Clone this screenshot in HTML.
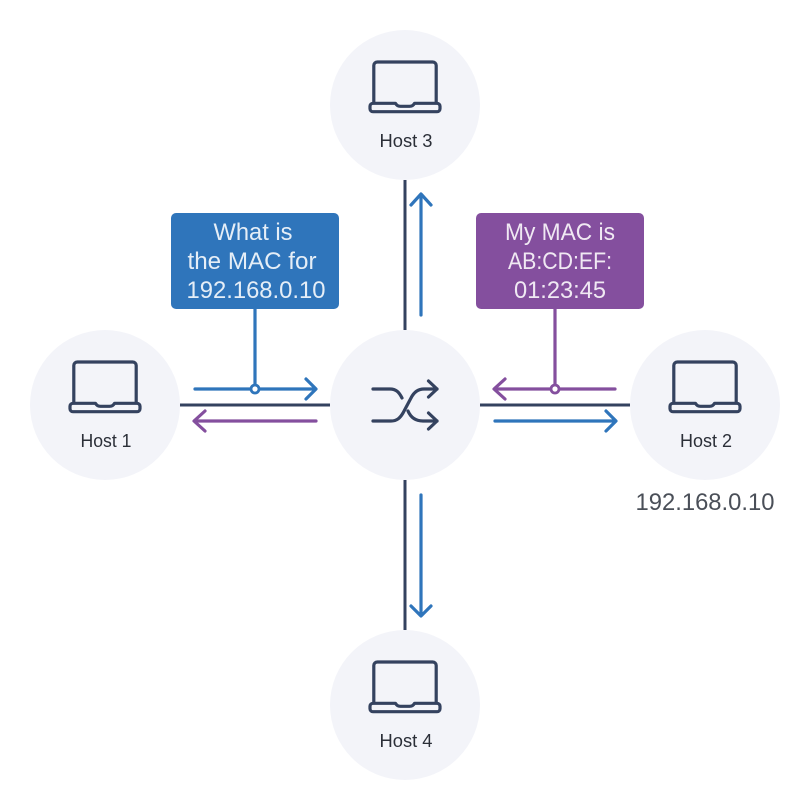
<!DOCTYPE html>
<html>
<head>
<meta charset="utf-8">
<style>
html,body{margin:0;padding:0;background:#fff;width:810px;height:810px;overflow:hidden}
svg{display:block}
text{font-family:"Liberation Sans",sans-serif}
</style>
</head>
<body>
<svg width="810" height="810" viewBox="0 0 810 810" xmlns="http://www.w3.org/2000/svg">
<defs>
<g id="lap" fill="none" stroke="#34425f" stroke-width="3.200" stroke-linejoin="round" stroke-linecap="round">
<path d="M-31.200 -2V-39.500a3.500 3.500 0 0 1 3.500-3.500H27.700a3.500 3.500 0 0 1 3.500 3.500V-2"/>
<path d="M-32 -1.700H-9.500Q-8 1.300 -4.500 1.300H4.500Q8 1.300 9.500 -1.700H32a3 3 0 0 1 3 3V3.700a3 3 0 0 1 -3 3H-32a3 3 0 0 1 -3 -3V1.300a3 3 0 0 1 3 -3Z"/>
</g>
</defs>

<circle cx="105" cy="405" r="75" fill="#f3f4f9"/>
<circle cx="705" cy="405" r="75" fill="#f3f4f9"/>
<circle cx="405" cy="105" r="75" fill="#f3f4f9"/>
<circle cx="405" cy="705" r="75" fill="#f3f4f9"/>
<circle cx="405" cy="405" r="75" fill="#f3f4f9"/>

<g stroke="#34425f" stroke-width="3" fill="none">
<path d="M180 405H330M480 405H630M405 180V330M405 480V630"/>
</g>

<use href="#lap" x="105" y="405"/>
<use href="#lap" x="705" y="405"/>
<use href="#lap" x="405" y="105"/>
<use href="#lap" x="405" y="705"/>

<g fill="none" stroke="#34425f" stroke-width="3.200" stroke-linecap="round" stroke-linejoin="round">
<path d="M373 389H390C396 389 399 392 402 398"/>
<path d="M373 421H391C397 421 400 418 403 413L411 398C414 392 418 389 424 389H437"/>
<path d="M408 411C411 418 416 421 423 421H437"/>
<path d="M428.500 381L437 389L428.500 397"/>
<path d="M428.500 413L437 421L428.500 429"/>
</g>

<g fill="none" stroke="#2f75bb" stroke-width="3.200" stroke-linecap="round" stroke-linejoin="round">
<path d="M195 389H315M306 379L316 389L306 399"/>
<path d="M495 421H615M606 411L616 421L606 431"/>
<path d="M421 315V195M411 205L421 194L431 205"/>
<path d="M421 495V615M411 606L421 616L431 606"/>
<path d="M255 308V385"/>
</g>
<circle cx="255" cy="389" r="4" fill="#fff" stroke="#2f75bb" stroke-width="2.800"/>

<g fill="none" stroke="#844f9e" stroke-width="3.200" stroke-linecap="round" stroke-linejoin="round">
<path d="M316 421H195M205 411L194 421L205 431"/>
<path d="M615 389H495M505 379L494 389L505 399"/>
<path d="M555 308V385"/>
</g>
<circle cx="555" cy="389" r="4" fill="#fff" stroke="#844f9e" stroke-width="2.800"/>

<rect x="171" y="213" width="168" height="96" rx="5" fill="#2f75bb"/>
<rect x="476" y="213" width="168" height="96" rx="5" fill="#844f9e"/>

<g fill="#fff" fill-opacity="0.88" font-size="24" text-anchor="middle">
<text x="253" y="240" textLength="79" lengthAdjust="spacingAndGlyphs">What is</text>
<text x="252" y="269" textLength="129" lengthAdjust="spacingAndGlyphs">the MAC for</text>
<text x="256" y="298" textLength="139" lengthAdjust="spacingAndGlyphs">192.168.0.10</text>
<text x="560" y="240" textLength="110" lengthAdjust="spacingAndGlyphs">My MAC is</text>
<text x="560" y="269" font-size="24" textLength="104" lengthAdjust="spacingAndGlyphs">AB:CD:EF:</text>
<text x="560" y="298" textLength="92" lengthAdjust="spacingAndGlyphs">01:23:45</text>
</g>

<g fill="#2b2f38" font-size="18" text-anchor="middle">
<text x="106" y="447" textLength="51" lengthAdjust="spacingAndGlyphs">Host 1</text>
<text x="706" y="447" textLength="52" lengthAdjust="spacingAndGlyphs">Host 2</text>
<text x="406" y="147" textLength="53" lengthAdjust="spacingAndGlyphs">Host 3</text>
<text x="406" y="747" textLength="53" lengthAdjust="spacingAndGlyphs">Host 4</text>
</g>
<text x="705" y="510" fill="#4a4f58" font-size="24" text-anchor="middle" textLength="139" lengthAdjust="spacingAndGlyphs">192.168.0.10</text>
</svg>
</body>
</html>
